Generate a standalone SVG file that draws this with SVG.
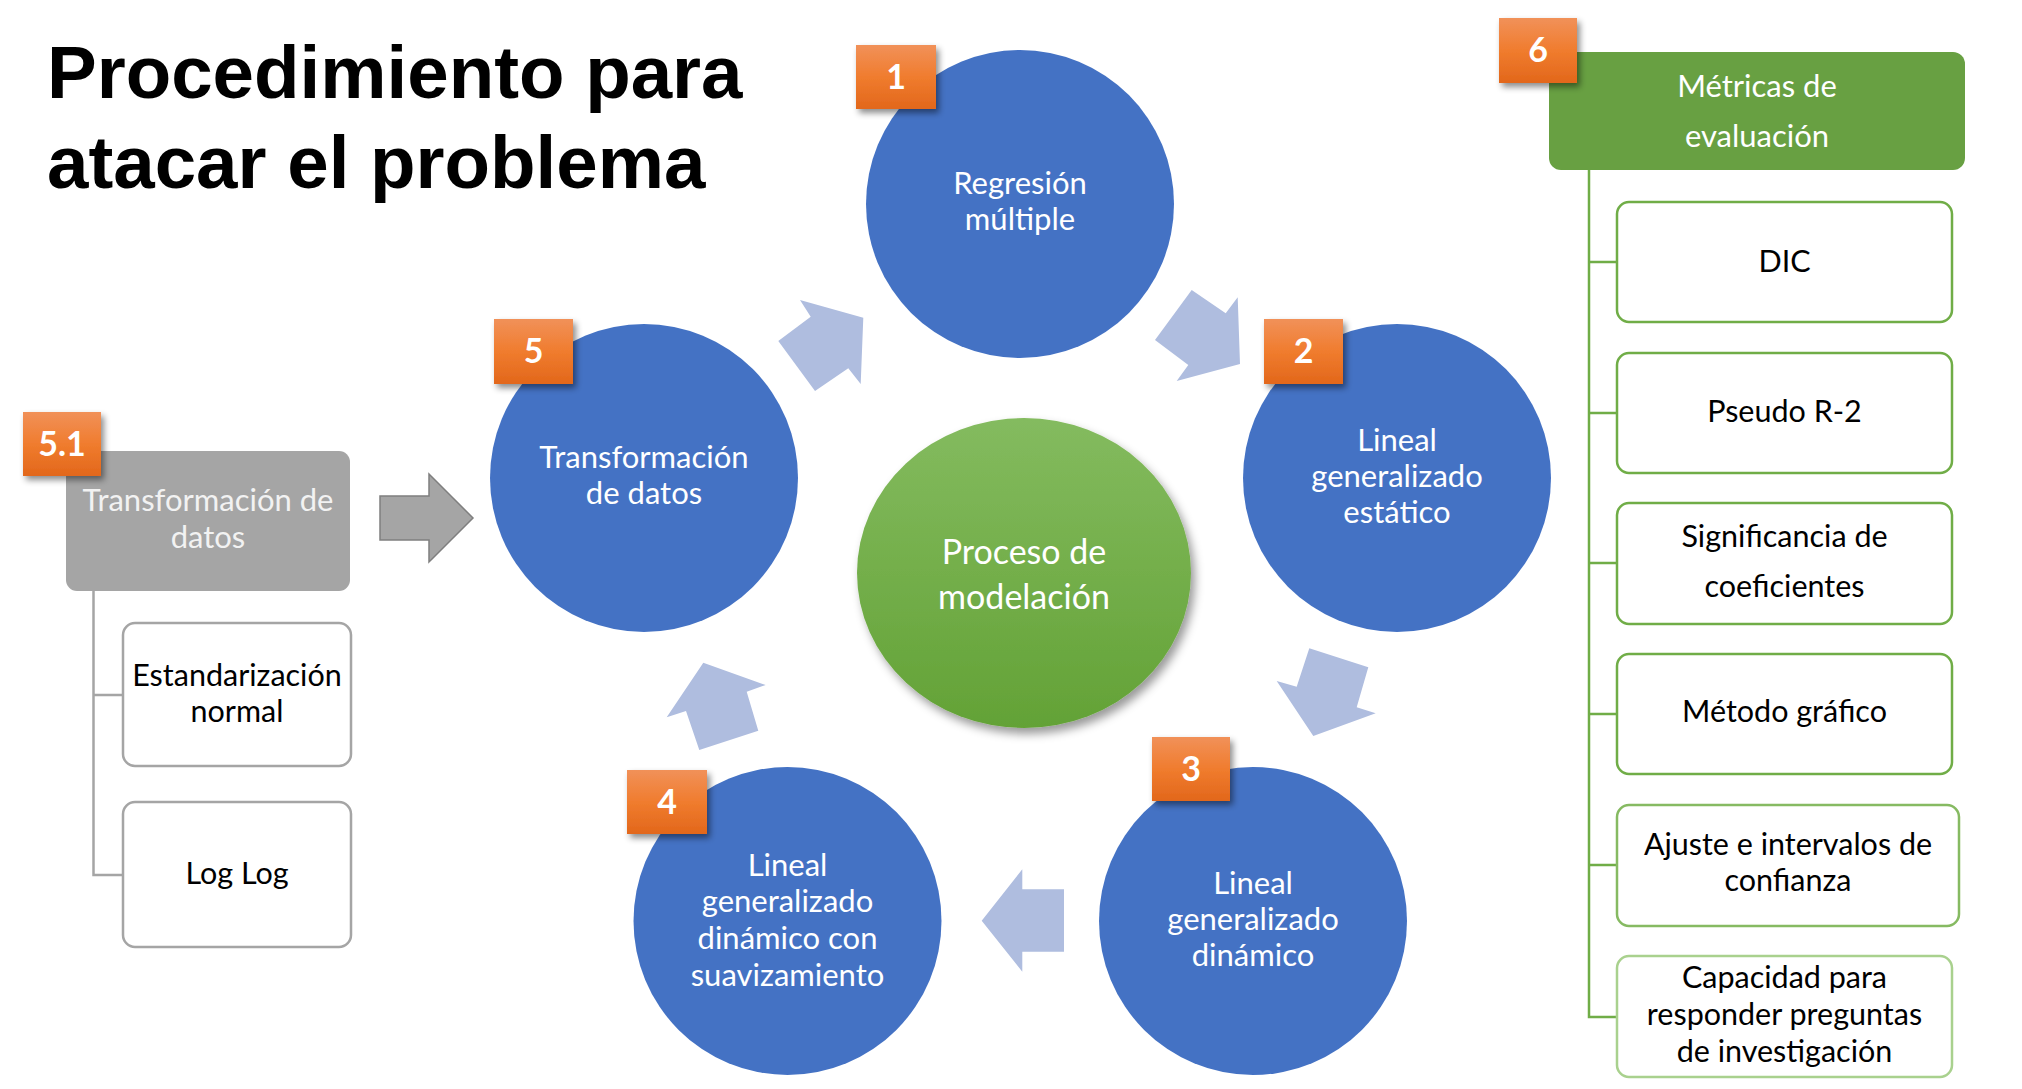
<svg xmlns="http://www.w3.org/2000/svg" width="2022" height="1089" viewBox="0 0 2022 1089">
<defs>
<linearGradient id="gOrange" x1="0" y1="0" x2="0" y2="1">
<stop offset="0" stop-color="#F19159"/>
<stop offset="0.5" stop-color="#F07C2E"/>
<stop offset="1" stop-color="#E2671B"/>
</linearGradient>
<linearGradient id="gGreen" x1="0" y1="0" x2="0" y2="1">
<stop offset="0" stop-color="#84BB5F"/>
<stop offset="1" stop-color="#63A236"/>
</linearGradient>
<filter id="fBadge" x="-30%" y="-30%" width="160%" height="160%">
<feDropShadow dx="3" dy="4" stdDeviation="3" flood-color="#000" flood-opacity="0.45"/>
</filter>
<filter id="fGreen" x="-20%" y="-20%" width="140%" height="140%">
<feDropShadow dx="4" dy="6" stdDeviation="5" flood-color="#000" flood-opacity="0.4"/>
</filter>
<style>
.circ{fill:#4472C4}
.ctext{font-family:Lato,"Open Sans",sans-serif;font-size:31px;fill:#FFFFFF;text-anchor:middle}
.big{font-size:34px}
.badge{fill:url(#gOrange);filter:url(#fBadge)}
.btext{font-family:Lato,"Open Sans",sans-serif;font-weight:700;font-size:34px;fill:#FFFFFF;text-anchor:middle}
.arrow{fill:#AFBDDF}
.gline{fill:none;stroke:#A5A5A5;stroke-width:2.5}
.gbox{fill:#FFFFFF;stroke:#A5A5A5;stroke-width:2.5}
.grline{fill:none;stroke:#70AD47;stroke-width:2.5}
.grbox{fill:#FFFFFF;stroke:#70AD47;stroke-width:2.5}
.grbox.l1{stroke:#86BA62}
.grbox.l2{stroke:#A9D18E}
.btxt{font-family:Lato,"Open Sans",sans-serif;font-size:30.5px;fill:#000000;text-anchor:middle}
.wtxt{font-family:Lato,"Open Sans",sans-serif;font-size:31px;fill:#FFFFFF;text-anchor:middle}
.wtxt.soft{fill:#F2F2F2}
.title{font-family:"Liberation Sans",Arial,sans-serif;font-weight:700;font-size:74.5px;fill:#000000}
</style>
</defs>
<rect x="0" y="0" width="2022" height="1089" fill="#FFFFFF"/>

<g id="title">
<text class="title" x="47" y="98">Procedimiento para</text>
<text class="title" x="47" y="188">atacar el problema</text>
</g>

<g id="connectors">
<polygon class="arrow" points="778.3,341 810.7,316.7 800,300 863.3,317.7 860.7,384 848.3,368.3 815,391"/>
<polygon class="arrow" points="1155,340 1191.7,290 1225.7,313.3 1237.7,297.3 1240,364 1176.7,381 1188.3,365"/>
<polygon class="arrow" points="1309.3,648.3 1368.3,667.3 1356.7,707.3 1375.7,713.3 1313.3,736 1276.7,681 1296.7,686.7"/>
<polygon class="arrow" points="1022.3,869.3 1022.3,889.3 1064,889.3 1064,951.7 1022.3,951.7 1022.3,971.7 981.7,920.7"/>
<polygon class="arrow" points="703.3,662.7 765.7,685 746.7,691.7 758.3,730.7 699.3,750 686,711 666.7,717.3"/>
<polygon points="380,496 429,496 429,474 473,518 429,562 429,540 380,540" fill="#A5A5A5" stroke="#7F7F7F" stroke-width="1.5"/>
<path class="gline" d="M93.5,591 V875 H123 M93.5,695 H123"/>
<path class="grline" d="M1589,170 V1017 H1617 M1589,262 H1617 M1589,413 H1617 M1589,563 H1617 M1589,714 H1617 M1589,865 H1617"/>
</g>

<g id="center">
<ellipse cx="1024" cy="573" rx="167" ry="155" fill="url(#gGreen)" filter="url(#fGreen)"/>
<text class="ctext big" x="1024" y="564">Proceso de</text>
<text class="ctext big" x="1024" y="609">modelación</text>
</g>

<g id="node1">
<circle class="circ" cx="1020" cy="204" r="154"/>
<text class="ctext" x="1020" y="194">Regresión</text>
<text class="ctext" x="1020" y="230">múltiple</text>
<rect class="badge" x="856" y="45" width="80" height="64"/>
<text class="btext" x="896" y="89">1</text>
</g>

<g id="node2">
<circle class="circ" cx="1397" cy="478" r="154"/>
<text class="ctext" x="1397" y="451">Lineal</text>
<text class="ctext" x="1397" y="487">generalizado</text>
<text class="ctext" x="1397" y="523">estático</text>
<rect class="badge" x="1264" y="319" width="79" height="65"/>
<text class="btext" x="1303.5" y="363">2</text>
</g>

<g id="node3">
<circle class="circ" cx="1253" cy="921" r="154"/>
<text class="ctext" x="1253" y="894">Lineal</text>
<text class="ctext" x="1253" y="930">generalizado</text>
<text class="ctext" x="1253" y="966">dinámico</text>
<rect class="badge" x="1152" y="737" width="78" height="64"/>
<text class="btext" x="1191" y="781">3</text>
</g>

<g id="node4">
<circle class="circ" cx="787.5" cy="921" r="154"/>
<text class="ctext" x="787.5" y="876">Lineal</text>
<text class="ctext" x="787.5" y="912">generalizado</text>
<text class="ctext" x="787.5" y="949">dinámico con</text>
<text class="ctext" x="787.5" y="986">suavizamiento</text>
<rect class="badge" x="627" y="770" width="80" height="64"/>
<text class="btext" x="667" y="814">4</text>
</g>

<g id="node5">
<circle class="circ" cx="644" cy="478" r="154"/>
<text class="ctext" x="644" y="468">Transformación</text>
<text class="ctext" x="644" y="504">de datos</text>
<rect class="badge" x="494" y="319" width="79" height="65"/>
<text class="btext" x="533.5" y="363">5</text>
</g>

<g id="node51">
<rect x="66" y="451" width="284" height="140" rx="11" fill="#A5A5A5"/>
<text class="wtxt soft" x="208" y="511">Transformación de</text>
<text class="wtxt soft" x="208" y="548">datos</text>
<rect class="badge" x="23" y="412" width="78" height="64"/>
<text class="btext" x="62" y="456">5.1</text>
</g>

<g id="node51a">
<rect class="gbox" x="123" y="623" width="228" height="143" rx="12"/>
<text class="btxt" x="237" y="686">Estandarización</text>
<text class="btxt" x="237" y="722">normal</text>
</g>

<g id="node51b">
<rect class="gbox" x="123" y="802" width="228" height="145" rx="12"/>
<text class="btxt" x="237" y="884">Log Log</text>
</g>

<g id="node6">
<rect x="1549" y="52" width="416" height="118" rx="12" fill="#68A042"/>
<text class="wtxt" x="1757" y="97">Métricas de</text>
<text class="wtxt" x="1757" y="147">evaluación</text>
<rect class="badge" x="1499" y="18" width="78" height="65"/>
<text class="btext" x="1538" y="62">6</text>
</g>

<g id="node6a">
<rect class="grbox" x="1617" y="202" width="335" height="120" rx="12"/>
<text class="btxt" x="1784.5" y="272">DIC</text>
</g>

<g id="node6b">
<rect class="grbox" x="1617" y="353" width="335" height="120" rx="12"/>
<text class="btxt" x="1784.5" y="422">Pseudo R-2</text>
</g>

<g id="node6c">
<rect class="grbox" x="1617" y="503" width="335" height="121" rx="12"/>
<text class="btxt" x="1784.5" y="547">Significancia de</text>
<text class="btxt" x="1784.5" y="597">coeficientes</text>
</g>

<g id="node6d">
<rect class="grbox" x="1617" y="654" width="335" height="120" rx="12"/>
<text class="btxt" x="1784.5" y="722">Método gráfico</text>
</g>

<g id="node6e">
<rect class="grbox l1" x="1617" y="805" width="342" height="121" rx="12"/>
<text class="btxt" x="1788" y="855">Ajuste e intervalos de</text>
<text class="btxt" x="1788" y="891">confianza</text>
</g>

<g id="node6f">
<rect class="grbox l2" x="1617" y="956" width="335" height="121" rx="12"/>
<text class="btxt" x="1784.5" y="988">Capacidad para</text>
<text class="btxt" x="1784.5" y="1025">responder preguntas</text>
<text class="btxt" x="1784.5" y="1062">de investigación</text>
</g>
</svg>
